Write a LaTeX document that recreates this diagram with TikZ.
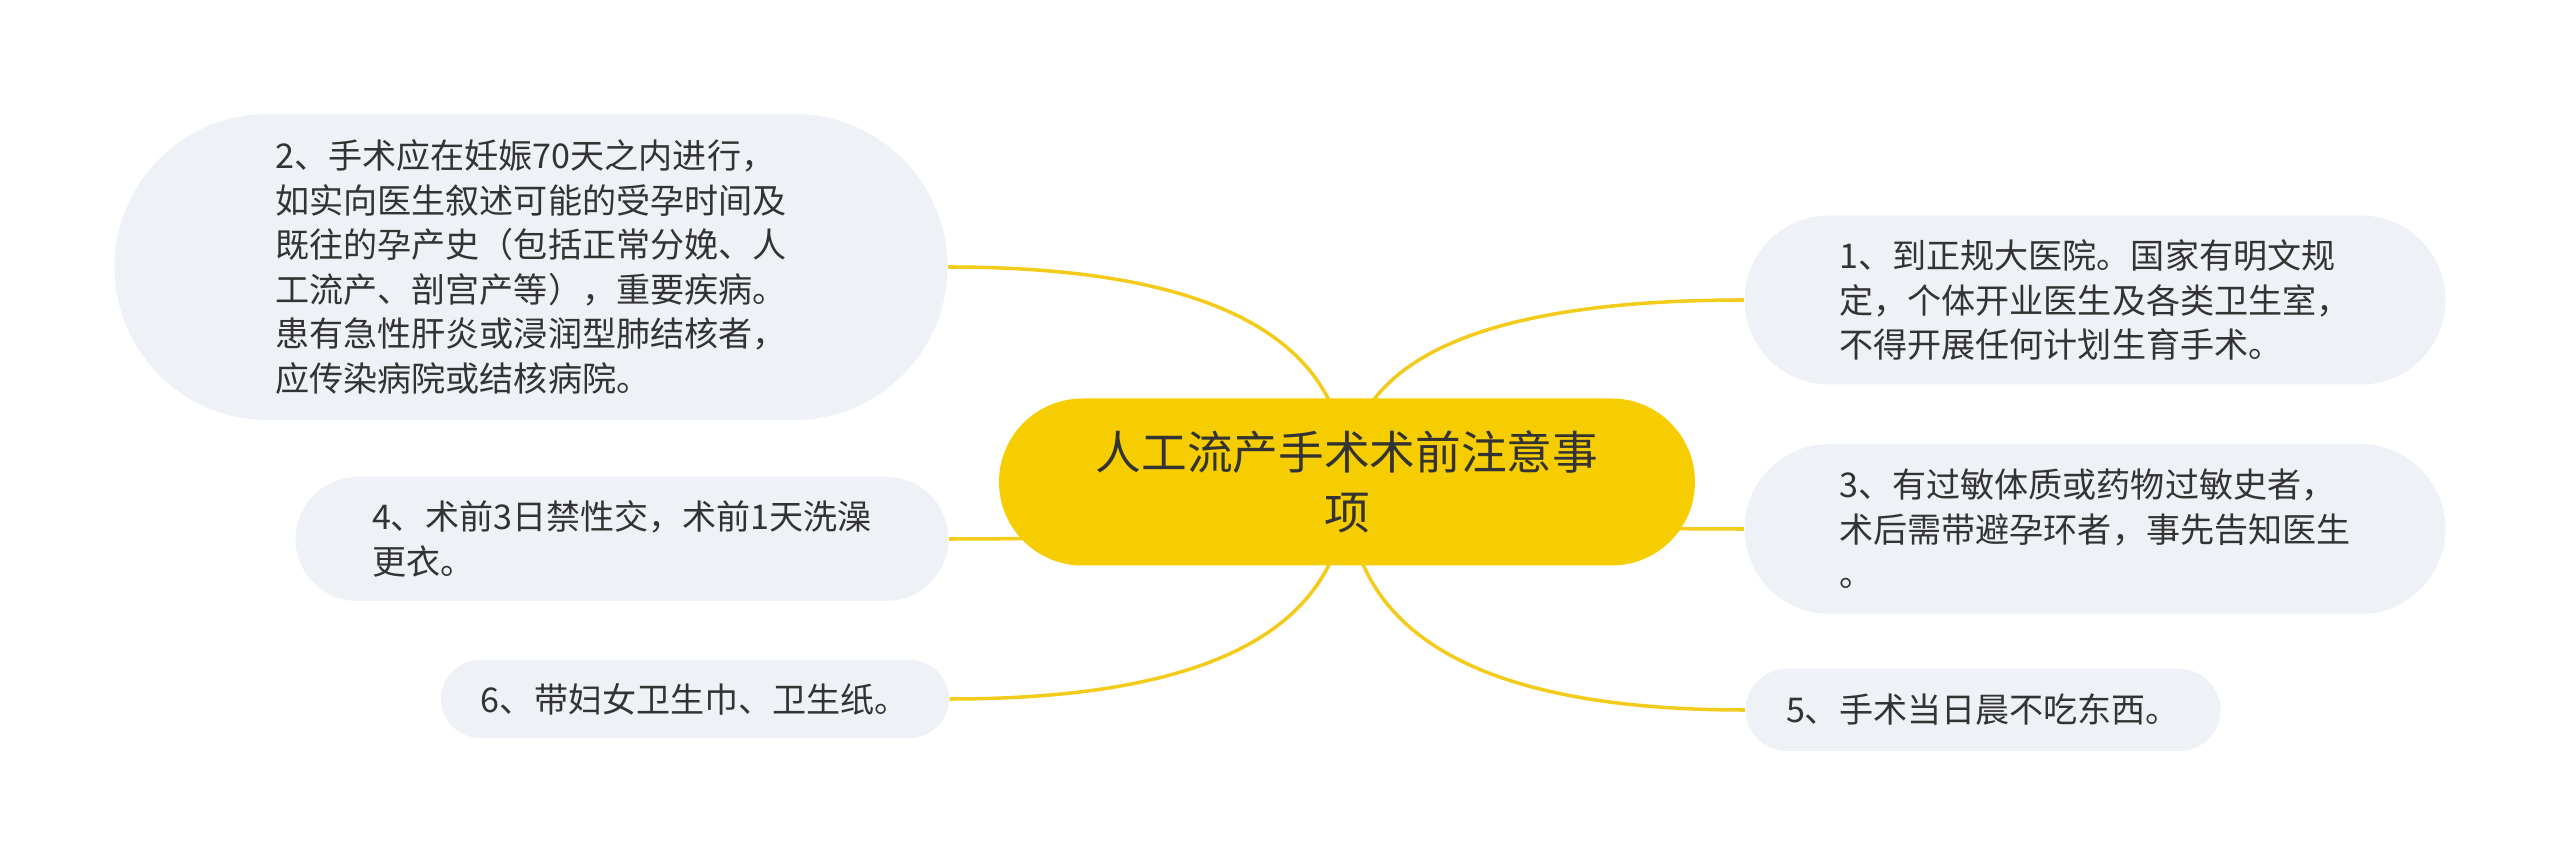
\documentclass[tikz,border=0pt]{standalone}
\usepackage{fontspec}
\setmainfont{Noto Sans CJK SC}
\usepackage{xcolor}
\usepackage{tikz}
\usetikzlibrary{backgrounds, calc}

\definecolor{hubyellow}{HTML}{F5CD00}
\definecolor{leafgray}{HTML}{EEF1F5}
\definecolor{linkyellow}{HTML}{F2CB1B}
\definecolor{inkgray}{HTML}{333333}

\begin{document}
\begin{tikzpicture}[
  hub/.style={fill=hubyellow, text=inkgray, rounded corners=0.835cm,
    minimum width=6.96cm, minimum height=1.67cm, align=center,
    font=\fontsize{13}{17}\selectfont},
  leaf/.style n args={3}{fill=leafgray, text=inkgray, align=left,
    minimum width=#1, minimum height=#2, rounded corners=#3,
    font=\fontsize{9.7}{12.7}\selectfont},
  link/.style={linkyellow, line width=1pt,
    to path={.. controls ($(\tikztostart)!0.667!(\tikztostart |- \tikztotarget)$)
      and ($(\tikztotarget)!0.667!(\tikztostart |- \tikztotarget)$) .. (\tikztotarget)}}
]
\useasboundingbox (0,0) rectangle (25.6,8.63);

\node[hub] (hub) at (13.47,3.81) {人工流产手术术前注意事\\项};

% left side
\node[leaf={8.33cm}{3.06cm}{1.53cm}] (t2) at (5.31,5.96)
  {2、手术应在妊娠70天之内进行，\\如实向医生叙述可能的受孕时间及\\既往的孕产史（包括正常分娩、人\\工流产、剖宫产等），重要疾病。\\患有急性肝炎或浸润型肺结核者，\\应传染病院或结核病院。};
\node[leaf={6.53cm}{1.24cm}{0.62cm}] (t4) at (6.22,3.24)
  {4、术前3日禁性交，术前1天洗澡\\更衣。};
\node[leaf={5.08cm}{0.78cm}{0.39cm}] (t6) at (6.95,1.64)
  {6、带妇女卫生巾、卫生纸。};

% right side
\node[leaf={7.01cm}{1.69cm}{0.845cm}] (t1) at (20.95,5.63)
  {1、到正规大医院。国家有明文规\\定，个体开业医生及各类卫生室，\\不得开展任何计划生育手术。};
\node[leaf={7.01cm}{1.70cm}{0.85cm}] (t3) at (20.95,3.34)
  {3、有过敏体质或药物过敏史者，\\术后需带避孕环者，事先告知医生\\。};
\node[leaf={4.75cm}{0.82cm}{0.41cm}] (t5) at (19.83,1.53)
  {5、手术当日晨不吃东西。};

\begin{pgfonlayer}{background}
\draw[link] (hub.center) to (t2.east);
\draw[link] (hub.center) to (t4.east);
\draw[link] (hub.center) to (t6.east);
\draw[link] (hub.center) to (t1.west);
\draw[link] (hub.center) to (t3.west);
\draw[link] (hub.center) to (t5.west);
\end{pgfonlayer}
\end{tikzpicture}
\end{document}
